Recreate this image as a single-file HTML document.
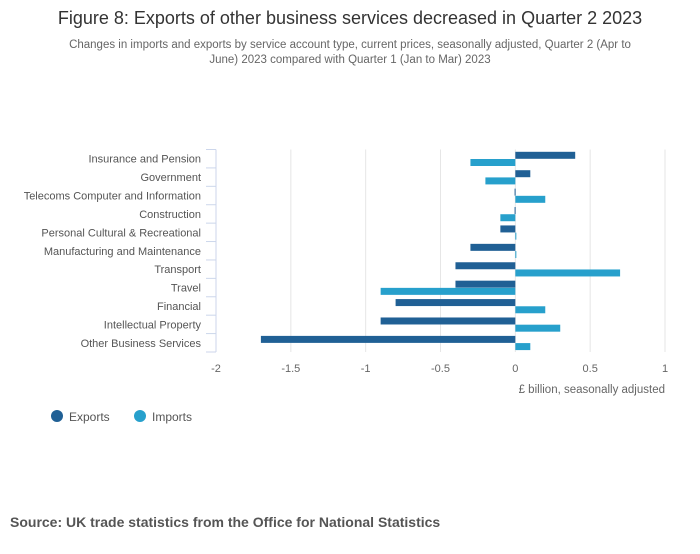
<!DOCTYPE html>
<html><head><meta charset="utf-8"><style>
body{margin:0;background:#fff;width:700px;height:549px;overflow:hidden;font-family:"Liberation Sans",sans-serif}
</style></head><body>
<svg width="700" height="549" id="c" font-family="Liberation Sans, sans-serif">
<text x="350" y="24" text-anchor="middle" font-size="18" fill="#333">Figure 8: Exports of other business services decreased in Quarter 2 2023</text>
<text x="350" y="48" text-anchor="middle" font-size="11.5" fill="#666">Changes in imports and exports by service account type, current prices, seasonally adjusted, Quarter 2 (Apr to</text>
<text x="350" y="63" text-anchor="middle" font-size="11.5" fill="#666">June) 2023 compared with Quarter 1 (Jan to Mar) 2023</text>
<g id="grid"></g><g id="bars"></g><g id="axes"></g>
<text x="665" y="393" text-anchor="end" font-size="11.5" fill="#666">£ billion, seasonally adjusted</text>
<g><circle cx="57" cy="416" r="6" fill="#206095"/><text x="69" y="421" font-size="12" fill="#555">Exports</text></g>
<g><circle cx="140" cy="416" r="6" fill="#27a0cc"/><text x="152" y="421" font-size="12" fill="#555">Imports</text></g>
<text x="10" y="527" font-size="14" font-weight="bold" fill="#555">Source: UK trade statistics from the Office for National Statistics</text>
</svg>
<script>
const categories=["Insurance and Pension","Government","Telecoms Computer and Information","Construction","Personal Cultural & Recreational","Manufacturing and Maintenance","Transport","Travel","Financial","Intellectual Property","Other Business Services"];
const exportsVals=[0.4,0.1,-0.005,-0.005,-0.1,-0.3,-0.4,-0.4,-0.8,-0.9,-1.7];
const importsVals=[-0.3,-0.2,0.2,-0.1,0.005,0.005,0.7,-0.9,0.2,0.3,0.1];
const ticks=[-2,-1.5,-1,-0.5,0,0.5,1];
const NS="http://www.w3.org/2000/svg";
const x0=216,x1=665,vmin=-2,vmax=1,yTop=149.5,yBot=352;
const band=(yBot-yTop)/categories.length;
const xs=v=>x0+(v-vmin)/(vmax-vmin)*(x1-x0);
const ys=i=>yTop+i*band;
function mk(t,a,p){const e=document.createElementNS(NS,t);for(const k in a)e.setAttribute(k,a[k]);p.appendChild(e);return e;}
const g=document.getElementById('grid'),b=document.getElementById('bars'),ax=document.getElementById('axes');
ticks.forEach(t=>{
 if(t!==vmin){const l=mk('line',{x1:xs(t),x2:xs(t),y1:yTop,y2:yBot,stroke:'#e6e6e6'},g);
 
 }
 const tx=mk('text',{x:xs(t),y:372,'text-anchor':'middle','font-size':11,fill:'#666'},ax);
 tx.textContent=t;
 
 
});
const al=mk('line',{x1:x0,x2:x0,y1:yTop,y2:yBot,stroke:'#ccd6eb'},ax);


for(let i=0;i<=categories.length;i++){const tk=mk('line',{x1:206,x2:x0,y1:ys(i),y2:ys(i),stroke:'#ccd6eb'},ax);
 
 }
categories.forEach((c,i)=>{
 const tx=mk('text',{x:201,y:ys(i)+band/2+4,'text-anchor':'end','font-size':11,fill:'#555'},ax);
 tx.textContent=c;
 
 
 [[exportsVals[i],'#206095',2.3,'bar-exports'],[importsVals[i],'#27a0cc',9.5,'bar-imports']].forEach(([v,col,off,nm])=>{
  const a=xs(0),bx=xs(v);
  const r=mk('rect',{x:Math.min(a,bx),y:ys(i)+off,width:Math.max(Math.abs(bx-a),1),height:7,fill:col},b);
  
  
 });
});
</script>
</body></html>
